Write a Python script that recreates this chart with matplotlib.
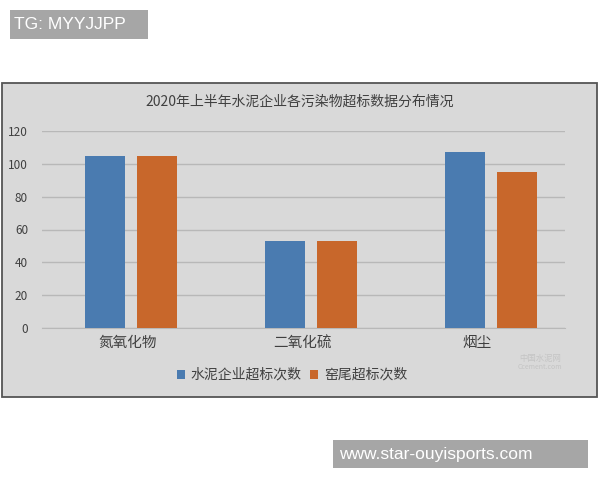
import numpy as np
import matplotlib
matplotlib.use("Agg")
import matplotlib.pyplot as plt
from matplotlib.patches import Rectangle

plt.rcParams['font.family'] = ['Noto Sans CJK SC', 'DejaVu Sans']

# data
categories = ["氮氧化物", "二氧化硫", "烟尘"]
cement_exceed = [105, 53, 107]
kiln_exceed = [105, 53, 95]
series_names = ["水泥企业超标次数", "窑尾超标次数"]
title = "2020年上半年水泥企业各污染物超标数据分布情况"

blue = "#4a7bb0"
orange = "#c8672b"
bg = "#d9d9d9"
txt = "#404040"

W, H = 600, 480
fig = plt.figure(figsize=(6, 4.8), dpi=100)
fig.patch.set_facecolor("white")

def fx(px):
    return px / W

def fy(py):
    return 1 - py / H

# chart frame (drawn under the axes)
fig.patches.append(Rectangle((fx(2), fy(397)), fx(595), (397 - 83) / H,
                             transform=fig.transFigure, facecolor=bg,
                             edgecolor="#555555", linewidth=1.3, zorder=-5))

ax = fig.add_axes([fx(42), fy(328), fx(523), (328 - 131) / H])
ax.set_facecolor("none")
ax.set_zorder(2)

x = np.arange(len(categories))
w = 0.222
ax.bar(x - 0.144, cement_exceed, width=w, color=blue, label=series_names[0], zorder=3)
ax.bar(x + 0.144, kiln_exceed, width=w, color=orange, label=series_names[1], zorder=3)

ax.set_xlim(-0.494, 2.411)
ax.set_ylim(0, 120)
ax.set_yticks(range(0, 121, 20))
ax.yaxis.grid(True, color="#b8b8b8", linewidth=1, zorder=0)
ax.set_axisbelow(True)
for s in ["top", "right", "left"]:
    ax.spines[s].set_visible(False)
ax.spines["bottom"].set_color("#b8b8b8")
ax.tick_params(axis="y", length=0, pad=10, labelsize=8.5, labelcolor=txt)
ax.set_xticks(x * 0.97 - 0.017)
ax.set_xticklabels(categories)
ax.tick_params(axis="x", length=0, pad=6, labelsize=10.5, labelcolor=txt)

fig.text(fx(300), fy(102), title, ha="center", va="center", fontsize=10, color=txt)

leg = fig.legend(loc="center", bbox_to_anchor=(fx(292), fy(375)), ncol=2, frameon=False,
                 fontsize=10, handlelength=0.6, handleheight=0.6, handletextpad=0.4,
                 columnspacing=0.6, labelcolor=txt)

# faint watermark
fig.text(fx(540), fy(358), "中国水泥网", ha="center", va="center", fontsize=6, color="#c4c4c4")
fig.text(fx(540), fy(367), "Ccement.com", ha="center", va="center", fontsize=5, color="#c4c4c4")

# top-left tag and bottom-right url
fig.patches.append(Rectangle((fx(10), fy(39)), fx(138), 29 / H, transform=fig.transFigure,
                             facecolor="#a6a6a6", edgecolor="none"))
fig.text(fx(14), fy(24.5), "TG: MYYJJPP", ha="left", va="center", fontsize=12.5,
         color="white", family=["Liberation Sans", "DejaVu Sans"])
fig.patches.append(Rectangle((fx(333), fy(468)), fx(255), 28 / H, transform=fig.transFigure,
                             facecolor="#a6a6a6", edgecolor="none"))
fig.text(fx(339), fy(454), "www.star-ouyisports.com", ha="left", va="center", fontsize=12.5,
         color="white", family=["Liberation Sans", "DejaVu Sans"])

fig.savefig("out.png", dpi=100, facecolor="white")
